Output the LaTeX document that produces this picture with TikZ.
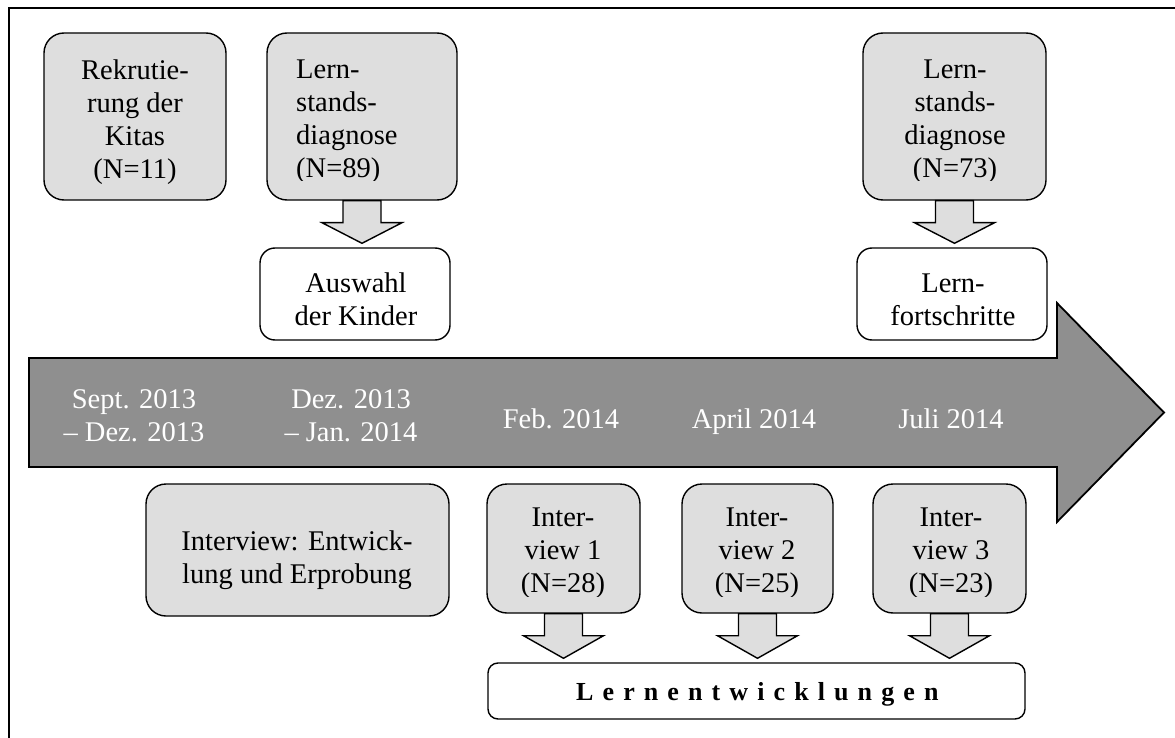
\documentclass[tikz,border=0pt]{standalone}
\usepackage{fontspec}
\setmainfont{Liberation Serif}
\newfontfamily\spacedfont{Liberation Serif}[LetterSpace=35]
\usetikzlibrary{calc}
\definecolor{boxgray}{HTML}{DEDEDE}
\definecolor{linegray}{HTML}{8F8F8F}
\newcommand{\mainsize}{\fontsize{28.5}{33}\selectfont}
\newcommand{\blockarrow}[2]{%
  \draw[bigarrow] let \p1=(#1.south), \p2=(#2.north) in
    (\x1-19pt,\y1) -- (\x1-19pt,\y1-22pt) -- (\x1-40pt,\y1-22pt) -- (\x1,\y2+4pt)
    -- (\x1+40pt,\y1-22pt) -- (\x1+19pt,\y1-22pt) -- (\x1+19pt,\y1) -- cycle;}
\begin{document}
\begin{tikzpicture}[x=1pt,y=-1pt,
  gbox/.style={draw, line width=1.4pt, fill=boxgray, rounded corners=20pt, inner sep=0pt},
  wbox/.style={draw, line width=1.4pt, fill=white, rounded corners=15pt, inner sep=0pt},
  txt/.style={align=center, font=\mainsize, inner sep=0pt},
  tltxt/.style={align=center, font=\mainsize, inner sep=0pt, text=white},
  bigarrow/.style={draw, line width=1.4pt, fill=boxgray, line join=miter},
  timeline/.style={draw, line width=1.8pt, fill=linegray, line join=miter}]
\useasboundingbox (0,0) rectangle (1175,738);

% frame
\draw[line width=2pt] (8.5,740) -- (8.5,8.5) -- (1177,8.5);

% timeline arrow
\draw[timeline] (29,358) -- (1057,358) -- (1057,303) -- (1164,412.5) -- (1057,522) -- (1057,467) -- (29,467) -- cycle;
\node[tltxt, anchor=north] (t1) at (134,389) {Sept. 2013\\– Dez. 2013};
\node[tltxt, anchor=north] (t2) at (351,389) {Dez. 2013\\– Jan. 2014};
\node[tltxt, anchor=base] (t3) at (561,428) {Feb. 2014};
\node[tltxt, anchor=base] (t4) at (754,428) {April 2014};
\node[tltxt, anchor=base] (t5) at (951,428) {Juli 2014};

% top boxes
\node[gbox, minimum width=182, minimum height=167] (rek) at (135,116.5) {};
\node[txt, anchor=north] (rekT) at (135,59.5) {Rekrutie-\\rung der\\Kitas\\(N=11)};

\node[gbox, minimum width=190, minimum height=167] (l89) at (362,116.5) {};
\begin{scope}
  \clip (267,33) rectangle (457,181);
  \node[txt, align=left, anchor=north west] (l89T) at (296,60) {Lern-\\stands-\\diagnose\\(N=89)};
\end{scope}

\node[gbox, minimum width=183, minimum height=167] (l73) at (954.5,116.5) {};
\begin{scope}
  \clip (863,33) rectangle (1046,181);
  \node[txt, anchor=north] (l73T) at (955,60) {Lern-\\stands-\\diagnose\\(N=73)};
\end{scope}

\node[wbox, minimum width=190, minimum height=92] (aus) at (355,294) {};
\node[txt, anchor=north] (ausT) at (356,273) {Auswahl\\der Kinder};

\node[wbox, minimum width=190, minimum height=92] (lf) at (952,294) {};
\node[txt, anchor=north] (lfT) at (953,274) {Lern-\\fortschritte};

\blockarrow{l89}{aus}
\blockarrow{l73}{lf}

% bottom boxes
\node[gbox, minimum width=303, minimum height=132] (ie) at (297.5,550) {};
\node[txt, anchor=north] (ieT) at (297,530.5) {Interview: Entwick-\\lung und Erprobung};

\node[gbox, minimum width=153, minimum height=129] (i1) at (563.5,548.5) {};
\begin{scope}
  \clip (487,484) rectangle (640,596.5);
  \node[txt, anchor=north] (i1T) at (563,508) {Inter-\\view 1\\(N=28)};
\end{scope}

\node[gbox, minimum width=151, minimum height=129] (i2) at (757.5,548.5) {};
\begin{scope}
  \clip (682,484) rectangle (833,596.5);
  \node[txt, anchor=north] (i2T) at (757,508) {Inter-\\view 2\\(N=25)};
\end{scope}

\node[gbox, minimum width=153, minimum height=129] (i3) at (949.5,548.5) {};
\begin{scope}
  \clip (873,484) rectangle (1026,596.5);
  \node[txt, anchor=north] (i3T) at (951,508) {Inter-\\view 3\\(N=23)};
\end{scope}

\node[wbox, rounded corners=10pt, minimum width=537, minimum height=56] (le) at (756.5,691) {};
\node[anchor=base west, inner sep=0pt, font=\spacedfont\bfseries\fontsize{26}{30}\selectfont] (leT) at (576,700) {Lernentwicklungen};

\blockarrow{i1}{le}
\blockarrow{i2}{le}
\blockarrow{i3}{le}
\end{tikzpicture}
\end{document}
